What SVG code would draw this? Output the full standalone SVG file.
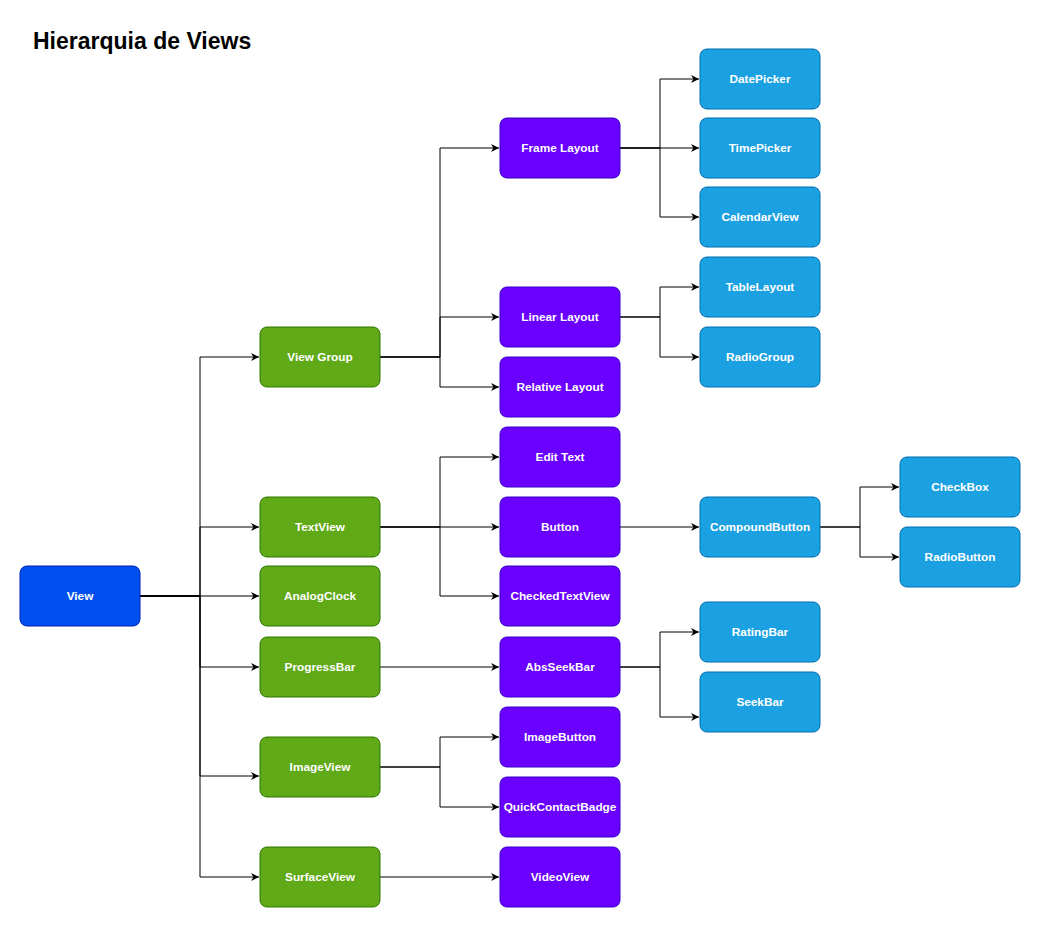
<svg xmlns="http://www.w3.org/2000/svg" width="1041" height="928" viewBox="0 0 1041 928">
<defs>
<marker id="arr" viewBox="0 0 10 10" refX="10" refY="5" markerWidth="8" markerHeight="8" markerUnits="userSpaceOnUse" orient="auto">
<path d="M0,0 L10,5 L0,10 L3,5 Z" fill="#000"/>
</marker>
<style>
.n rect{stroke-width:1}
.root rect{fill:#0050EF;stroke:#001DBC}
.g rect{fill:#60A917;stroke:#2D7600}
.p rect{fill:#6A00FF;stroke:#3700CC}
.b rect{fill:#1BA1E2;stroke:#006EAF}
.n text{fill:#fff;font-family:"Liberation Sans",Arial,sans-serif;font-size:11.8px;font-weight:bold;text-anchor:middle;dominant-baseline:central}
#edges path{fill:none;stroke:#000;stroke-width:1;marker-end:url(#arr)}
</style>
</defs>
<rect width="1041" height="928" fill="#fff"/>
<text x="33" y="49" font-family="'Liberation Sans',Arial,sans-serif" font-size="23" font-weight="bold" fill="#000">Hierarquia de Views</text>
<g id="edges">
<path d="M140,596 H200 V357 H259"/>
<path d="M140,596 H200 V527 H259"/>
<path d="M140,596 H259"/>
<path d="M140,596 H200 V667 H259"/>
<path d="M140,596 H200 V776 H259"/>
<path d="M140,596 H200 V877 H259"/>
<path d="M380,357 H440 V148 H499"/>
<path d="M380,357 H440 V317 H499"/>
<path d="M380,357 H440 V387 H499"/>
<path d="M380,527 H440 V457 H499"/>
<path d="M380,527 H499"/>
<path d="M380,527 H440 V596 H499"/>
<path d="M380,667 H499"/>
<path d="M380,767 H440 V737 H499"/>
<path d="M380,767 H440 V807 H499"/>
<path d="M380,877 H499"/>
<path d="M620,148 H660 V79 H699"/>
<path d="M620,148 H699"/>
<path d="M620,148 H660 V217 H699"/>
<path d="M620,317 H660 V287 H699"/>
<path d="M620,317 H660 V357 H699"/>
<path d="M620,527 H699"/>
<path d="M620,667 H660 V632 H699"/>
<path d="M620,667 H660 V717 H699"/>
<path d="M820,527 H860 V487 H899"/>
<path d="M820,527 H860 V557 H899"/>
</g>
<g id="view" class="n root"><rect x="20" y="566" width="120" height="60" rx="7"/><text x="80" y="596">View</text></g>
<g id="viewgroup" class="n g"><rect x="260" y="327" width="120" height="60" rx="7"/><text x="320" y="357">View Group</text></g>
<g id="textview" class="n g"><rect x="260" y="497" width="120" height="60" rx="7"/><text x="320" y="527">TextView</text></g>
<g id="analogclock" class="n g"><rect x="260" y="566" width="120" height="60" rx="7"/><text x="320" y="596">AnalogClock</text></g>
<g id="progressbar" class="n g"><rect x="260" y="637" width="120" height="60" rx="7"/><text x="320" y="667">ProgressBar</text></g>
<g id="imageview" class="n g"><rect x="260" y="737" width="120" height="60" rx="7"/><text x="320" y="767">ImageView</text></g>
<g id="surfaceview" class="n g"><rect x="260" y="847" width="120" height="60" rx="7"/><text x="320" y="877">SurfaceView</text></g>
<g id="framelayout" class="n p"><rect x="500" y="118" width="120" height="60" rx="7"/><text x="560" y="148">Frame Layout</text></g>
<g id="linearlayout" class="n p"><rect x="500" y="287" width="120" height="60" rx="7"/><text x="560" y="317">Linear Layout</text></g>
<g id="relativelayout" class="n p"><rect x="500" y="357" width="120" height="60" rx="7"/><text x="560" y="387">Relative Layout</text></g>
<g id="edittext" class="n p"><rect x="500" y="427" width="120" height="60" rx="7"/><text x="560" y="457">Edit Text</text></g>
<g id="button" class="n p"><rect x="500" y="497" width="120" height="60" rx="7"/><text x="560" y="527">Button</text></g>
<g id="checkedtextview" class="n p"><rect x="500" y="566" width="120" height="60" rx="7"/><text x="560" y="596">CheckedTextView</text></g>
<g id="absseekbar" class="n p"><rect x="500" y="637" width="120" height="60" rx="7"/><text x="560" y="667">AbsSeekBar</text></g>
<g id="imagebutton" class="n p"><rect x="500" y="707" width="120" height="60" rx="7"/><text x="560" y="737">ImageButton</text></g>
<g id="quickcontactbadge" class="n p"><rect x="500" y="777" width="120" height="60" rx="7"/><text x="560" y="807">QuickContactBadge</text></g>
<g id="videoview" class="n p"><rect x="500" y="847" width="120" height="60" rx="7"/><text x="560" y="877">VideoView</text></g>
<g id="datepicker" class="n b"><rect x="700" y="49" width="120" height="60" rx="7"/><text x="760" y="79">DatePicker</text></g>
<g id="timepicker" class="n b"><rect x="700" y="118" width="120" height="60" rx="7"/><text x="760" y="148">TimePicker</text></g>
<g id="calendarview" class="n b"><rect x="700" y="187" width="120" height="60" rx="7"/><text x="760" y="217">CalendarView</text></g>
<g id="tablelayout" class="n b"><rect x="700" y="257" width="120" height="60" rx="7"/><text x="760" y="287">TableLayout</text></g>
<g id="radiogroup" class="n b"><rect x="700" y="327" width="120" height="60" rx="7"/><text x="760" y="357">RadioGroup</text></g>
<g id="compoundbutton" class="n b"><rect x="700" y="497" width="120" height="60" rx="7"/><text x="760" y="527">CompoundButton</text></g>
<g id="ratingbar" class="n b"><rect x="700" y="602" width="120" height="60" rx="7"/><text x="760" y="632">RatingBar</text></g>
<g id="seekbar" class="n b"><rect x="700" y="672" width="120" height="60" rx="7"/><text x="760" y="702">SeekBar</text></g>
<g id="checkbox" class="n b"><rect x="900" y="457" width="120" height="60" rx="7"/><text x="960" y="487">CheckBox</text></g>
<g id="radiobutton" class="n b"><rect x="900" y="527" width="120" height="60" rx="7"/><text x="960" y="557">RadioButton</text></g>
</svg>
